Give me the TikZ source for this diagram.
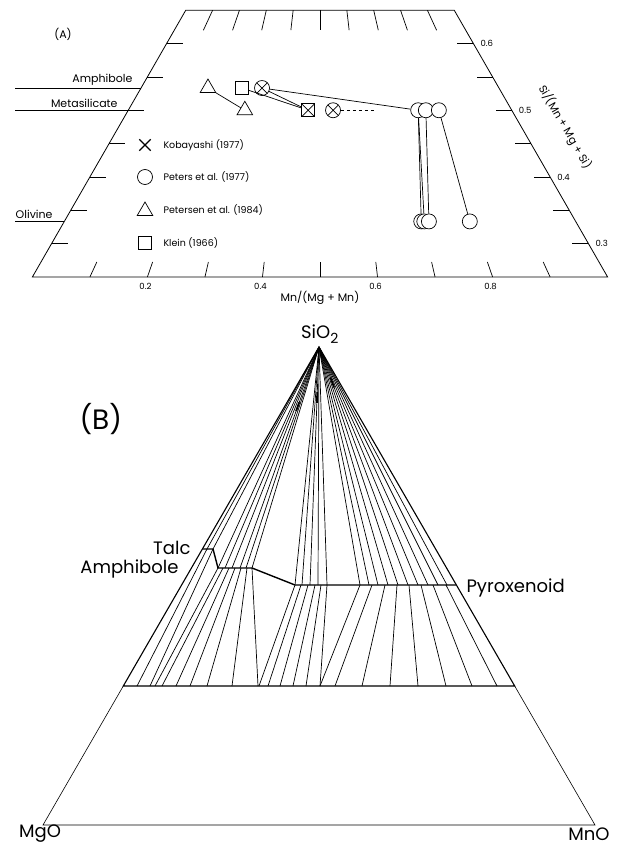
\documentclass[tikz,border=0pt]{standalone}
\usepackage{fontspec}
\setmainfont{Poppins}
\usetikzlibrary{calc,positioning,shapes.geometric,shapes.misc}

\tikzset{
	outline/.style={line width=0.8pt},
	tickmk/.style={line width=0.7pt},
	tieline/.style={line width=0.7pt},
	phaseline/.style={line width=1.4pt},
	ptcirc/.style={circle,draw,fill=white,inner sep=0pt,minimum size=15pt,line width=0.7pt},
	pttri/.style={regular polygon,regular polygon sides=3,draw,fill=white,inner sep=0pt,minimum size=18pt,line width=0.7pt},
	ptsq/.style={rectangle,draw,fill=white,inner sep=0pt,minimum size=13pt,line width=0.7pt},
	xin/.style={path picture={\draw[line width=0.7pt] (path picture bounding box.north west)--(path picture bounding box.south east) (path picture bounding box.north east)--(path picture bounding box.south west);}},
	smalltxt/.style={font=\fontsize{9.5}{11}\selectfont},
	numtxt/.style={font=\fontsize{8.5}{10}\selectfont},
	lbltxt/.style={font=\fontsize{11}{13}\selectfont},
	bigtxt/.style={font=\fontsize{18}{21}\selectfont}
}

\begin{document}
\begin{tikzpicture}[x=1pt,y=-1pt,
	declare function={tx(\r,\s)=320+(\r-0.5)*767*(1-\s); ty(\s)=277-(\s-0.25)*667;}]
	\useasboundingbox (0,0) rectangle (624,846);
	
	%%%%%% (A)
	%frame
	\coordinate (bl) at ({tx(0,0.25)},{ty(0.25)});
	\coordinate (br) at ({tx(1,0.25)},{ty(0.25)});
	\coordinate (tr) at ({tx(1,0.65)},{ty(0.65)});
	\coordinate (tl) at ({tx(0,0.65)},{ty(0.65)});
	\draw[outline] (bl) -- (br) -- (tr) -- (tl) -- cycle;
	
	%ticks
	\foreach \r in {0.1,0.2,0.3,0.4,0.5,0.6,0.7,0.8,0.9}{
		\draw[tickmk] ({tx(\r,0.25)},{ty(0.25)}) -- ({tx(\r,0.2725)},{ty(0.2725)});
		\draw[tickmk] ({tx(\r,0.65)},{ty(0.65)}) -- ({tx(\r,0.62)},{ty(0.62)});
	}
	\foreach \s in {0.3,0.35,0.4,0.45,0.5,0.55,0.6}{
		\draw[tickmk] ({tx(0,\s)},{ty(\s)}) -- ++(16,0);
		\draw[tickmk] ({tx(1,\s)},{ty(\s)}) -- ++(-16,0);
	}
	
	%axis labels
	\foreach \s in {0.3,0.4,0.5,0.6}
		\node[numtxt,anchor=west,inner sep=1pt] at ({tx(1,\s)+6},{ty(\s)}) {\s};
	\foreach \r in {0.2,0.4,0.6,0.8}
		\node[numtxt,anchor=north,inner sep=1pt] at ({tx(\r,0.25)-2},{ty(0.25)+5}) {\r};
	\node[lbltxt,inner sep=1pt] (mnax) at (320,298) {Mn/(Mg + Mn)};
	\node[lbltxt,rotate=-60,inner sep=1pt] (siax) at (565,127) {Si/(Mn + Mg + Si)};
	\node[font=\fontsize{11}{13}\selectfont] (labA) at (63,34) {(A)};
	
	%stoichiometric lines
	\coordinate (amE) at ({tx(0,8/15)},{ty(8/15)});
	\coordinate (msE) at ({tx(0,0.5)},{ty(0.5)});
	\coordinate (olE) at ({tx(0,1/3)},{ty(1/3)});
	\draw[line width=1pt] (15,{ty(8/15)}) -- (amE);
	\draw[line width=1pt] (15,{ty(0.5)}) -- (msE);
	\draw[line width=1pt] (15,{ty(1/3)}) -- (olE);
	\node[lbltxt,anchor=south east,inner sep=1.5pt] at ($(amE)+(-7,-1)$) {Amphibole};
	\node[lbltxt,anchor=south east,inner sep=1.5pt] at ($(msE)+(-9,-1)$) {Metasilicate};
	\node[lbltxt,anchor=south west,inner sep=1.5pt] at (14,{ty(1/3)-1}) {Olivine};
	
	%data points
	\node[pttri] (tA) at ({tx(0.187,8/15)},{ty(8/15)}) {};
	\node[pttri] (tB) at ({tx(0.304,0.5)},{ty(0.5)}) {};
	\node[ptsq] (kA) at ({tx(0.282,8/15)},{ty(8/15)}) {};
	\node[ptcirc,xin] (oA) at ({tx(0.338,8/15)},{ty(8/15)}) {};
	\node[ptsq,xin] (sA) at ({tx(0.469,0.5)},{ty(0.5)}) {};
	\node[ptcirc,xin] (oB) at ({tx(0.534,0.5)},{ty(0.5)}) {};
	\node[ptcirc] (cT1) at ({tx(0.756,0.5)},{ty(0.5)}) {};
	\node[ptcirc] (cT2) at ({tx(0.776,0.5)},{ty(0.5)}) {};
	\node[ptcirc] (cT3) at ({tx(0.810,0.5)},{ty(0.5)}) {};
	\node[ptcirc] (cB1) at ({tx(0.698,1/3)},{ty(1/3)}) {};
	\node[ptcirc] (cB2) at ({tx(0.704,1/3)},{ty(1/3)}) {};
	\node[ptcirc] (cB3) at ({tx(0.713,1/3)},{ty(1/3)}) {};
	\node[ptcirc] (cB4) at ({tx(0.793,1/3)},{ty(1/3)}) {};
	\coordinate (dashE) at ({tx(0.643,0.5)},{ty(0.5)});
	
	%tie lines
	\draw[tieline] (tA) -- (tB);
	\draw[tieline] (kA) -- (sA);
	\draw[tieline] (oA) -- (sA);
	\draw[tieline] (oA) -- (cT1);
	\draw[tieline,dashed] (oB) -- (dashE);
	\draw[tieline] (cT1) -- (cB1);
	\draw[tieline] (cT1) -- (cB2);
	\draw[tieline] (cT2) -- (cB3);
	\draw[tieline] (cT3) -- (cB4);
	
	%legend
	\node[cross out,draw,line width=1.3pt,minimum size=10pt,inner sep=0pt] (lgKob) at (145,145) {};
	\node[ptcirc] (lgPet) at (145,177) {};
	\node[pttri] (lgPsn) at (145,211) {};
	\node[ptsq] (lgKln) at (145,243) {};
	\node[smalltxt,anchor=west] at (160,145) {Kobayashi (1977)};
	\node[smalltxt,anchor=west] at (160,177) {Peters et al. (1977)};
	\node[smalltxt,anchor=west] at (160,210) {Petersen et al. (1984)};
	\node[smalltxt,anchor=west] at (160,243) {Klein (1966)};
	
	%%%%%% (B)
	\coordinate (S) at (319,347);
	\coordinate (Mg) at (43,825);
	\coordinate (Mn) at (595,825);
	\coordinate (oL) at (123.3,686);
	\coordinate (oR) at (514.7,686);
	\coordinate (tcL) at (202.4,549);
	\coordinate (tcR) at (213,549);
	\coordinate (amL) at (218,568);
	\coordinate (amR) at (252,568);
	\coordinate (pxL) at (295,585);
	\coordinate (pxR) at (456.4,585);
	
	%outer triangle
	\draw[line width=0.6pt] (oL) -- (Mg) -- (Mn) -- (oR);
	\draw[line width=1.1pt] (oL) -- (S) -- (oR) -- cycle;
	
	%fans from silica
	\foreach \a in {207,213} \draw[tieline] (S) -- (\a,549);
	\foreach \a in {218,225,232,240,246,252} \draw[tieline] (S) -- (\a,568);
	\foreach \a in {295,302,310,318,327} \draw[tieline] (S) -- (\a,585);
	\foreach \a in {360,369,378,388,398,408,418,428,438,447} \draw[tieline] (S) -- (\a,585);
	\draw[line width=1.8pt] ($(S)!0.13!(408,585)$) -- ($(S)!0.17!(408,585)$);
	\draw[line width=1.8pt] ($(S)!0.19!(310,585)$) -- ($(S)!0.235!(310,585)$);
	\draw[line width=1.8pt] ($(S)!0.25!(240,568)$) -- ($(S)!0.29!(240,568)$);
	
	%tie lines to olivine
	\foreach \a/\b in {207/137,213/150} \draw[tieline] (\a,549) -- (\b,686);
	\foreach \a/\b in {218/155,223/162,229/176,235/190,241/207,247/232,252/258} \draw[tieline] (\a,568) -- (\b,686);
	\foreach \a/\b in {295/259,301/268,308/280,315/293,321/306,327/320} \draw[tieline] (\a,585) -- (\b,686);
	\foreach \a/\b in {360/320,372/335,385/362,397/390,409/418,421/446,433/472,446/497} \draw[tieline] (\a,585) -- (\b,686);
	
	%phase boundaries
	\draw[phaseline] (tcL) -- (tcR) -- (amL) -- (amR) -- (pxL) -- (pxR);
	
	%labels
	\node[bigtxt] (siL) at (320,334) {SiO\textsubscript{\fontsize{14}{16}\selectfont 2}};
	\node[bigtxt,anchor=east] (tcLab) at (194,548) {Talc};
	\node[bigtxt,anchor=east] (amLab) at (182,569) {Amphibole};
	\node[bigtxt,anchor=west] (pxLab) at (463,588) {Pyroxenoid};
	\node[bigtxt,inner sep=0pt] (mgLab) at (40,834) {MgO};
	\node[bigtxt,inner sep=0pt] (mnLab) at (589,834) {MnO};
	\node[font=\fontsize{28}{32}\selectfont,anchor=west] (labB) at (76,419) {(B)};
\end{tikzpicture}
\end{document}
